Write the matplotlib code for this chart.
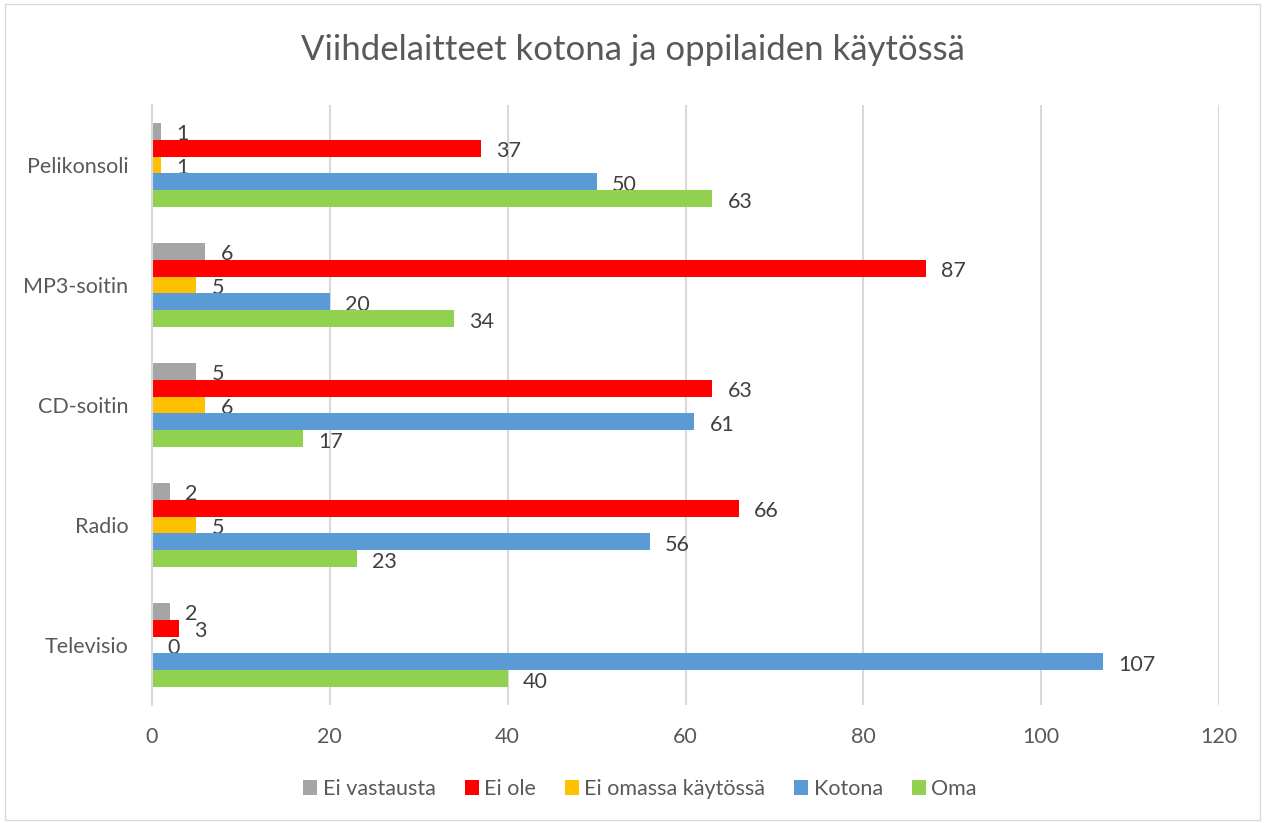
import matplotlib.pyplot as plt
import numpy as np
from matplotlib.patches import Rectangle

### Data
categories = ['Televisio', 'Radio', 'CD-soitin', 'MP3-soitin', 'Pelikonsoli']
series_names = ['Ei vastausta', 'Ei ole', 'Ei omassa käytössä', 'Kotona', 'Oma']
ei_vastausta = [2, 2, 5, 6, 1]
ei_ole = [3, 66, 63, 87, 37]
ei_omassa = [0, 5, 6, 5, 1]
kotona = [107, 56, 61, 20, 50]
oma = [40, 23, 17, 34, 63]
colors = ['#A5A5A5', '#FF0000', '#FFC000', '#5B9BD5', '#92D050']

plt.rcParams['font.family'] = ['Lato', 'DejaVu Sans']
txt = '#595959'

fig = plt.figure(figsize=(12.66, 8.23), dpi=100)
ax = fig.add_axes([152/1266, 1-705/823, (1219-152)/1266, 600/823])

y = np.arange(len(categories))
h = 0.1406
all_series = [ei_vastausta, ei_ole, ei_omassa, kotona, oma]
for i, (vals, name, c) in enumerate(zip(all_series, series_names, colors)):
    off = (2 - i) * h
    ax.barh(y + off, vals, height=h, color=c, label=name, zorder=3)
    for yy, v in zip(y + off, vals):
        ax.annotate(str(v), (v, yy), xytext=(11, -2), textcoords='offset points',
                    va='center', ha='left', fontsize=15.5, color='#404040')

ax.set_xlim(0, 120)
ax.set_ylim(-0.5, len(categories) - 0.5)
ax.set_xticks(np.arange(0, 121, 20))
ax.set_yticks(y)
ax.set_yticklabels(categories)
ax.grid(axis='x', color='#D9D9D9', linewidth=1.5, zorder=0)
ax.tick_params(axis='both', length=0, labelsize=15.5, colors=txt)
ax.tick_params(axis='x', pad=16)
ax.tick_params(axis='y', pad=17)
for s in ['top', 'right', 'bottom']:
    ax.spines[s].set_visible(False)
ax.spines['left'].set_color('#D9D9D9')
ax.spines['left'].set_linewidth(1.5)
ax.spines['left'].set_zorder(4)

fig.suptitle('Viihdelaitteet kotona ja oppilaiden käytössä', y=1-50/823,
             fontsize=25, color=txt, va='center')

fig.legend(loc='center', bbox_to_anchor=(640/1266, 1-789/823), ncol=5, frameon=False,
           fontsize=15.5, labelcolor=txt, handlelength=0.65, handleheight=0.65,
           handletextpad=0.25, columnspacing=1.35)

fig.patches.append(Rectangle((5/1266, 3/823), 1255/1266, 816/823, transform=fig.transFigure,
                             fill=False, edgecolor='#D9D9D9', linewidth=1))

fig.savefig('out.png', dpi=100)
